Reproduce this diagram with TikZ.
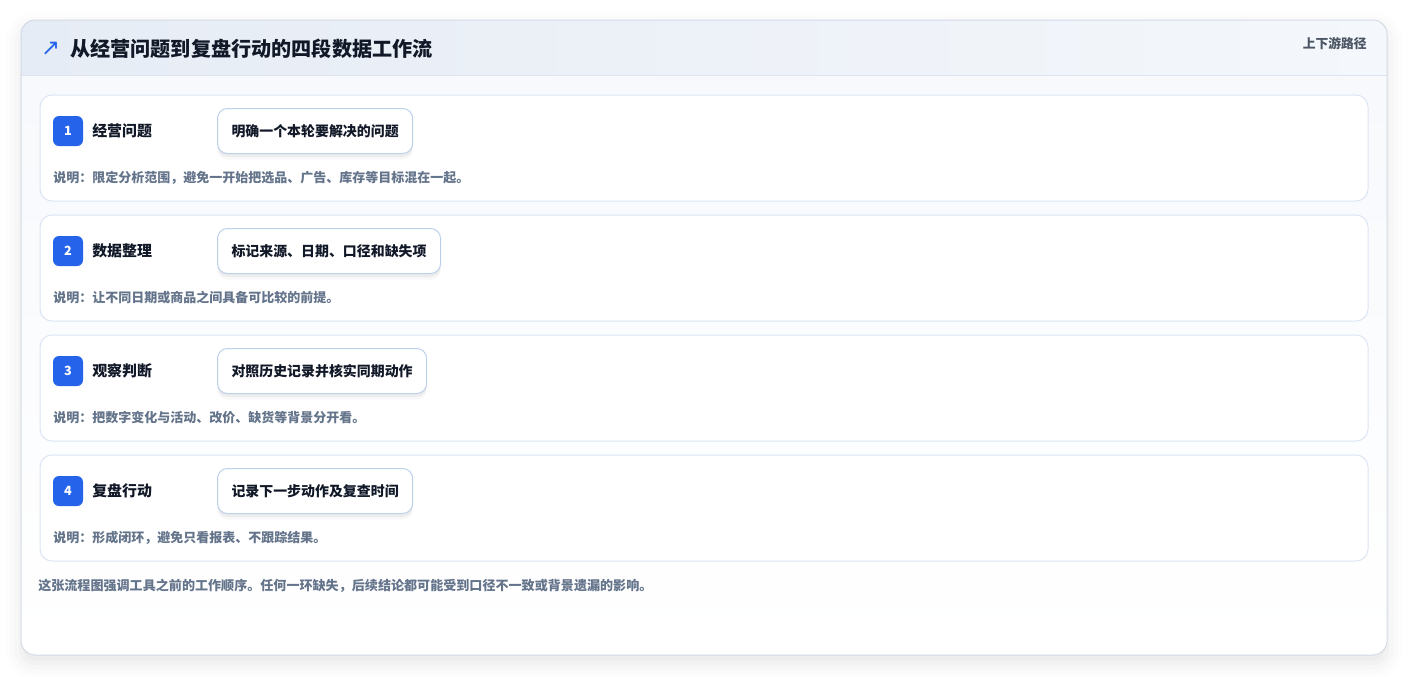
\documentclass[tikz,border=0pt]{standalone}
\usepackage{fontspec}
\setmainfont{Noto Sans CJK SC}
\newfontfamily\symfont{DejaVu Sans}
\usetikzlibrary{shadows.blur}
\definecolor{brandblue}{HTML}{2563EB}
\definecolor{inkdark}{HTML}{111827}
\definecolor{inkgray}{HTML}{64748B}
\definecolor{inkmid}{HTML}{4B5563}
\definecolor{rowline}{HTML}{DCE5F1}
\definecolor{pillline}{HTML}{BCD0EC}
\definecolor{headleft}{HTML}{E6ECF5}
\definecolor{headright}{HTML}{F4F7FB}
\definecolor{cardline}{HTML}{D3DAE5}
\definecolor{cardtop}{HTML}{F7F9FC}
\begin{document}
\begin{tikzpicture}[x=0.75pt,y=-0.75pt,
	rowbox/.style={draw=rowline,fill=white,line width=0.75pt,rounded corners=9pt,minimum width=996pt,minimum height=79.5pt},
	badge/.style={fill=brandblue,text=white,rounded corners=4.5pt,minimum size=22.5pt,inner sep=0pt,font=\bfseries\fontsize{9.5}{10}\selectfont},
	steplabel/.style={anchor=west,inner sep=0pt,text=inkdark,font=\bfseries\fontsize{11.2}{12}\selectfont},
	pill/.style={anchor=west,draw=pillline,fill=white,line width=0.75pt,rounded corners=7.5pt,minimum height=33.75pt,inner xsep=10.5pt,text=inkdark,font=\bfseries\fontsize{10.45}{12}\selectfont,
		preaction={fill=black,opacity=0.045,transform canvas={yshift=-2.5pt}},
		preaction={fill=black,opacity=0.03,transform canvas={yshift=-4.5pt}}},
	note/.style={anchor=west,inner sep=0pt,text=inkgray,font=\bfseries\fontsize{9.75}{12}\selectfont}]
	\useasboundingbox (0,0) rectangle (1408,676);
	
	% card and header
	\path[fill=white,rounded corners=10.5pt,blur shadow={shadow xshift=0pt,shadow yshift=-6pt,shadow blur radius=12pt,shadow opacity=10}] (21,20) rectangle (1387,655);
	\begin{scope}
		\clip[rounded corners=10.5pt] (21,20) rectangle (1387,655);
		\shade[top color=cardtop,bottom color=white] (21,75) rectangle (1387,655);
		\shade[left color=headleft,right color=headright] (21,20) rectangle (1387,75);
	\end{scope}
	\draw[rowline,line width=0.75pt] (21,75) -- (1387,75);
	\draw[cardline,line width=0.75pt,rounded corners=10.5pt] (21,20) rectangle (1387,655);
	
	\node[text=brandblue,font=\symfont\fontsize{17}{17}\selectfont] (icon) at (50.5,49) {↗};
	\node[anchor=west,inner sep=0pt,text=inkdark,font=\bfseries\fontsize{15.1}{16}\selectfont] (title) at (70,49) {从经营问题到复盘行动的四段数据工作流};
	\node[anchor=east,inner sep=0pt,text=inkmid,font=\bfseries\fontsize{9.6}{12}\selectfont] (route) at (1367,44) {上下游路径};
	
	% step 1
	\node[rowbox] (row1) at (704,148) {};
	\node[badge] (b1) at (68,131) {1};
	\node[steplabel] (s1) at (92,131) {经营问题};
	\node[pill] (p1) at (217,131) {明确一个本轮要解决的问题};
	\node[note] (n1) at (53,178) {说明：限定分析范围，避免一开始把选品、广告、库存等目标混在一起。};
	
	% step 2
	\node[rowbox] (row2) at (704,268) {};
	\node[badge] (b2) at (68,251) {2};
	\node[steplabel] (s2) at (92,251) {数据整理};
	\node[pill] (p2) at (217,251) {标记来源、日期、口径和缺失项};
	\node[note] (n2) at (53,298) {说明：让不同日期或商品之间具备可比较的前提。};
	
	% step 3
	\node[rowbox] (row3) at (704,388) {};
	\node[badge] (b3) at (68,371) {3};
	\node[steplabel] (s3) at (92,371) {观察判断};
	\node[pill] (p3) at (217,371) {对照历史记录并核实同期动作};
	\node[note] (n3) at (53,418) {说明：把数字变化与活动、改价、缺货等背景分开看。};
	
	% step 4
	\node[rowbox] (row4) at (704,508) {};
	\node[badge] (b4) at (68,491) {4};
	\node[steplabel] (s4) at (92,491) {复盘行动};
	\node[pill] (p4) at (217,491) {记录下一步动作及复查时间};
	\node[note] (n4) at (53,538) {说明：形成闭环，避免只看报表、不跟踪结果。};
	
	\node[note,font=\bfseries\fontsize{9.8}{12}\selectfont] (footer) at (38,586) {这张流程图强调工具之前的工作顺序。任何一环缺失，后续结论都可能受到口径不一致或背景遗漏的影响。};
\end{tikzpicture}
\end{document}
